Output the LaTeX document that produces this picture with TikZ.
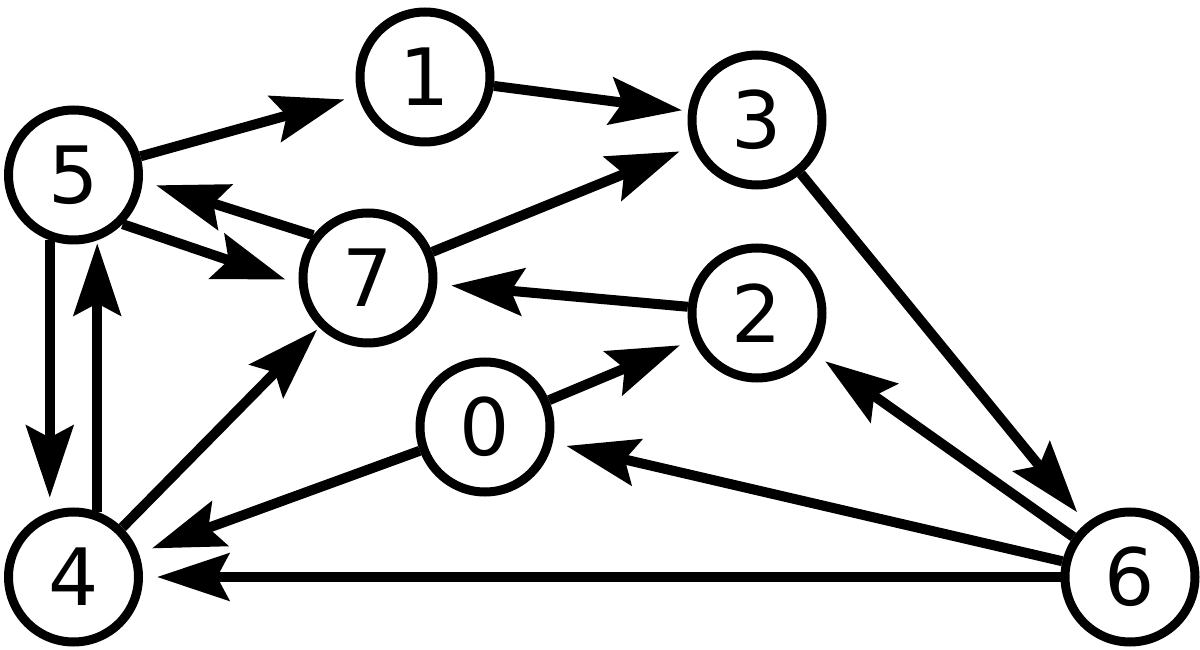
\documentclass[tikz,border=0pt]{standalone}
\usepackage{fontspec}
\setmainfont{DejaVu Sans}
\usetikzlibrary{arrows.meta}

\begin{document}
\begin{tikzpicture}[>={Stealth[length=7.2mm,width=4.7mm,inset=1.2mm]},
  vtx/.style={draw,circle,line width=0.09cm,minimum size=1.3cm,inner sep=0pt,
    font=\fontsize{22.5}{27}\selectfont},
  link/.style={->,line width=0.1cm,shorten >=1.4mm}]
\useasboundingbox (0,0) rectangle (12,6.49);
\node[vtx] (v5) at (0.735,4.74) {5};
\node[vtx] (v1) at (4.25,5.72) {1};
\node[vtx] (v3) at (7.57,5.29) {3};
\node[vtx] (v7) at (3.68,3.71) {7};
\node[vtx] (v2) at (7.57,3.36) {2};
\node[vtx] (v0) at (4.85,2.22) {0};
\node[vtx] (v4) at (0.735,0.72) {4};
\node[vtx] (v6) at (11.30,0.72) {6};
\draw[link] (v5) -- (v1);
\draw[link,shorten >=0.6mm] (v1) -- (v3);
\draw[link] (v7) -- (v3);
\draw[link] (v7.142) -- (v5.-5);
\draw[link] (v5.-45) -- (v7.185);
\draw[link] (v2) -- (v7);
\draw[link] (v5.250) -- (v4.110);
\draw[link,shorten >=0.3mm] (v4.70) -- (v5.290);
\draw[link,shorten >=0.3mm] (v4) -- (v7);
\draw[link] (v0) -- (v2);
\draw[link] (v0) -- (v4);
\draw[link] (v6) -- (v2);
\draw[link] (v6) -- (v0);
\draw[link] (v6) -- (v4);
\draw[link] (v3) -- (v6);
\end{tikzpicture}
\end{document}
